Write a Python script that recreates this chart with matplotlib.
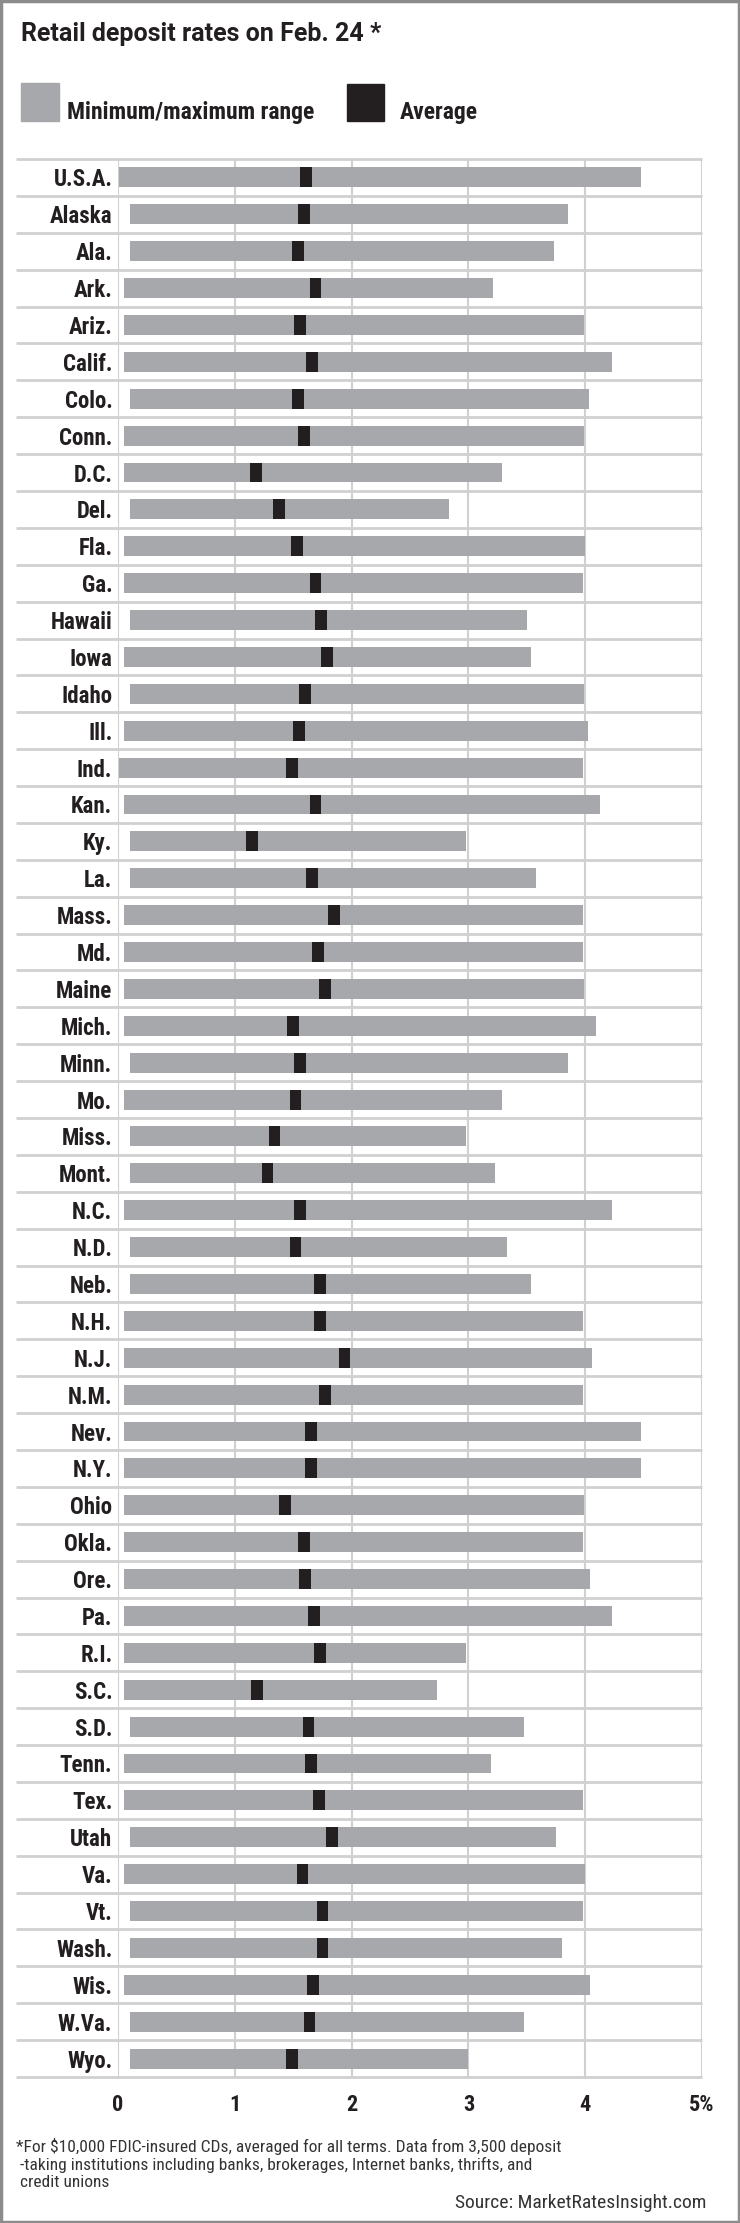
import matplotlib
matplotlib.use("Agg")
import matplotlib.pyplot as plt
from matplotlib.patches import Rectangle
import numpy as np

W, H = 740, 2223

states = ['U.S.A.', 'Alaska', 'Ala.', 'Ark.', 'Ariz.', 'Calif.', 'Colo.', 'Conn.',
          'D.C.', 'Del.', 'Fla.', 'Ga.', 'Hawaii', 'Iowa', 'Idaho', 'Ill.', 'Ind.',
          'Kan.', 'Ky.', 'La.', 'Mass.', 'Md.', 'Maine', 'Mich.', 'Minn.', 'Mo.',
          'Miss.', 'Mont.', 'N.C.', 'N.D.', 'Neb.', 'N.H.', 'N.J.', 'N.M.', 'Nev.',
          'N.Y.', 'Ohio', 'Okla.', 'Ore.', 'Pa.', 'R.I.', 'S.C.', 'S.D.', 'Tenn.',
          'Tex.', 'Utah', 'Va.', 'Vt.', 'Wash.', 'Wis.', 'W.Va.', 'Wyo.']

rate_min = [0.01, 0.10, 0.10, 0.05, 0.05, 0.05, 0.10, 0.05,
            0.05, 0.10, 0.05, 0.05, 0.10, 0.05, 0.10, 0.05, 0.01,
            0.05, 0.10, 0.10, 0.05, 0.05, 0.05, 0.05, 0.10, 0.05,
            0.10, 0.10, 0.05, 0.10, 0.10, 0.05, 0.05, 0.05, 0.05,
            0.05, 0.05, 0.05, 0.05, 0.05, 0.05, 0.05, 0.10, 0.05,
            0.05, 0.10, 0.05, 0.10, 0.10, 0.05, 0.10, 0.10]

rate_max = [4.48, 3.85, 3.73, 3.21, 3.99, 4.23, 4.03, 3.99,
            3.29, 2.83, 4.00, 3.98, 3.50, 3.54, 3.99, 4.02, 3.98,
            4.13, 2.98, 3.58, 3.98, 3.98, 3.99, 4.09, 3.85, 3.29,
            2.98, 3.23, 4.23, 3.33, 3.54, 3.98, 4.06, 3.98, 4.48,
            4.48, 3.99, 3.98, 4.04, 4.23, 2.98, 2.73, 3.48, 3.19,
            3.98, 3.75, 4.00, 3.98, 3.80, 4.04, 3.48, 3.00]

rate_avg = [1.61, 1.59, 1.54, 1.69, 1.56, 1.66, 1.54, 1.59,
            1.18, 1.38, 1.53, 1.69, 1.74, 1.79, 1.60, 1.55, 1.49,
            1.69, 1.15, 1.66, 1.85, 1.71, 1.77, 1.50, 1.56, 1.52,
            1.34, 1.28, 1.56, 1.52, 1.73, 1.73, 1.94, 1.77, 1.65,
            1.65, 1.43, 1.59, 1.60, 1.68, 1.73, 1.19, 1.63, 1.65,
            1.72, 1.83, 1.58, 1.75, 1.75, 1.67, 1.64, 1.49]

x_ticks = [0, 1, 2, 3, 4, 5]
x_tick_labels = ['0', '1', '2', '3', '4', '5%']

title = 'Retail deposit rates on Feb. 24 *'
footnote_lines = ['*For $10,000 FDIC-insured CDs, averaged for all terms. Data from 3,500 deposit',
                  ' -taking institutions including banks, brokerages, Internet banks, thrifts, and',
                  ' credit unions']
source = 'Source: MarketRatesInsight.com'

GREY = '#a7a8ab'
BLACK = '#231f20'
LINE = '#d0d0d0'
FONT = ['Roboto Condensed', 'Archivo Narrow', 'DejaVu Sans']
TITLE_FONT = ['Roboto', 'DejaVu Sans']


def fx(x):
    return x / W


def fy(y):
    return 1 - y / H


fig = plt.figure(figsize=(W / 100, H / 100), dpi=100)
fig.patch.set_facecolor('white')

# plot area in pixel coords: x 118..702, y 159..2077
ax = fig.add_axes([fx(118), fy(2077), fx(702) - fx(118), (2077 - 159) / H])

n = len(states)
ypos = np.arange(n)
rmin = np.array(rate_min)
rmax = np.array(rate_max)
ravg = np.array(rate_avg)

ax.barh(ypos, rmax - rmin, left=rmin, height=0.54, color=GREY, zorder=3)
ax.barh(ypos, 0.1, left=ravg - 0.05, height=0.54, color=BLACK, zorder=4)

ax.set_xlim(0, 5)
ax.set_ylim(n - 0.5, -0.5)
ax.set_xticks(x_ticks)
ax.set_xticklabels(x_tick_labels, family=FONT, fontsize=16, fontweight='bold')
ax.set_yticks(ypos)
ax.set_yticklabels(states, family=FONT, fontsize=16.5, fontweight='bold')
ax.tick_params(axis='both', length=0, colors='#231f20')
ax.tick_params(axis='y', pad=4)
ax.tick_params(axis='x', pad=12)
for s in ax.spines.values():
    s.set_visible(False)

for xv in x_ticks:
    ax.axvline(xv, color=LINE, lw=1.5, zorder=1)
ax.hlines(np.arange(n + 1) - 0.5, -0.877, 5, color=LINE, lw=2, zorder=1,
          clip_on=False)

# title and legend
fig.text(fx(21), fy(41), title, family=TITLE_FONT, fontsize=18, fontweight='bold',
         color='#231f20', va='baseline', ha='left')
fig.add_artist(Rectangle((fx(21), fy(121)), fx(38), 38 / H, color=GREY,
                         transform=fig.transFigure))
fig.add_artist(Rectangle((fx(347), fy(121)), fx(37), 37 / H, color=BLACK,
                         transform=fig.transFigure))
fig.text(fx(67), fy(119), 'Minimum/maximum range', family=FONT, fontsize=17,
         fontweight='bold', color='#231f20', va='baseline')
fig.text(fx(400), fy(119), 'Average', family=FONT, fontsize=17,
         fontweight='bold', color='#231f20', va='baseline')

# footnote and source
for i, line in enumerate(footnote_lines):
    fig.text(fx(16), fy(2152 + 17.7 * i), line, family=FONT, fontsize=12.5,
             color='#333333', va='baseline', ha='left')
fig.text(fx(706), fy(2208), source, family=FONT, fontsize=14, color='#333333',
         va='baseline', ha='right')

# outer frame
fig.add_artist(Rectangle((0.0015, 0.0006), 0.997, 0.9988, fill=False,
                         edgecolor='#8c8c8c', lw=2.5, transform=fig.transFigure))

fig.savefig('out.png', dpi=100)
